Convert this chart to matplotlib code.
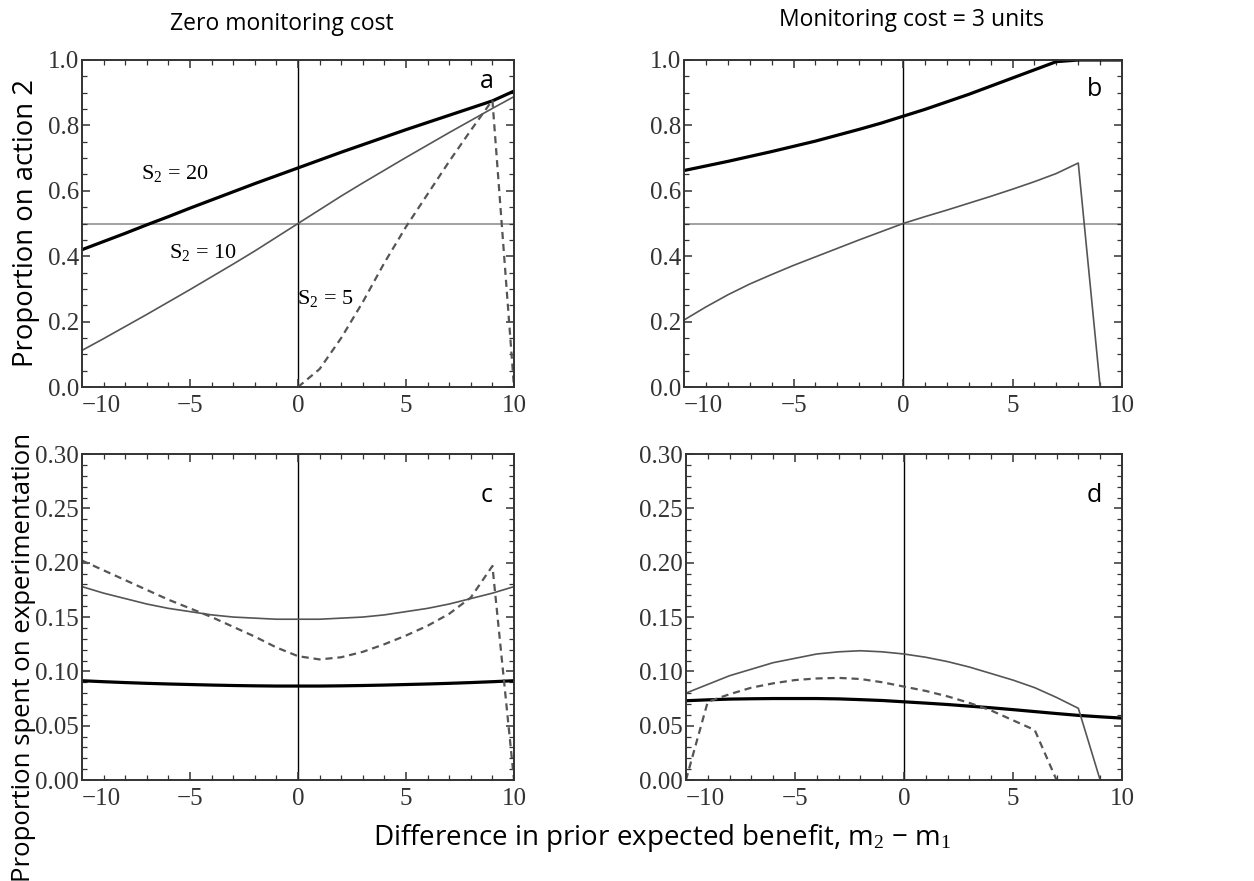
import numpy as np
import matplotlib
matplotlib.use("Agg")
import matplotlib.pyplot as plt
from matplotlib.ticker import MultipleLocator, FixedFormatter

plt.rcParams['mathtext.fontset'] = 'custom'
plt.rcParams['mathtext.rm'] = 'Liberation Serif'
plt.rcParams['mathtext.it'] = 'Liberation Serif'

# difference in prior expected benefit, m2 - m1 (integer grid)
x = np.arange(-10, 11)
x_pos = np.arange(0, 11)
x_ticks = [-10, -5, 0, 5, 10]
x_labels = ['\u221210', '\u22125', '0', '5', '10']
top_ticks = [0.0, 0.2, 0.4, 0.6, 0.8, 1.0]
bottom_ticks = [0.0, 0.05, 0.10, 0.15, 0.20, 0.25, 0.30]

# zero monitoring cost: proportion on action 2
a_s20 = [0.420, 0.445, 0.470, 0.496, 0.521, 0.547, 0.572, 0.597, 0.622, 0.646, 0.670,
         0.694, 0.718, 0.741, 0.764, 0.787, 0.809, 0.831, 0.853, 0.875, 0.905]
a_s10 = [0.112, 0.148, 0.185, 0.222, 0.260, 0.298, 0.337, 0.376, 0.416, 0.458, 0.500,
         0.542, 0.584, 0.624, 0.663, 0.702, 0.740, 0.778, 0.815, 0.852, 0.888]
a_s5 = [0.0, 0.055, 0.150, 0.260, 0.380, 0.490, 0.590, 0.690, 0.785, 0.877, 0.0]

# monitoring cost = 3 units: proportion on action 2
b_s20 = [0.662, 0.676, 0.690, 0.705, 0.720, 0.736, 0.752, 0.770, 0.788, 0.807, 0.828,
         0.849, 0.872, 0.895, 0.920, 0.945, 0.970, 0.995, 1.0, 1.0, 1.0]
b_s10 = [0.205, 0.245, 0.282, 0.315, 0.344, 0.372, 0.398, 0.424, 0.450, 0.475, 0.500,
         0.521, 0.541, 0.562, 0.583, 0.605, 0.628, 0.653, 0.685, 0.0]
x_b10 = np.arange(-10, 10)

# zero monitoring cost: proportion spent on experimentation
c_s20 = [0.0914, 0.0905, 0.0897, 0.0890, 0.0884, 0.0879, 0.0874, 0.0870, 0.0867, 0.0865, 0.0865,
         0.0865, 0.0867, 0.0870, 0.0874, 0.0879, 0.0884, 0.0890, 0.0897, 0.0905, 0.0914]
c_s10 = [0.178, 0.172, 0.167, 0.162, 0.158, 0.155, 0.152, 0.150, 0.149, 0.148, 0.148,
         0.148, 0.149, 0.150, 0.152, 0.155, 0.158, 0.162, 0.167, 0.172, 0.178]
c_s5 = [0.202, 0.193, 0.184, 0.175, 0.166, 0.158, 0.150, 0.141, 0.132, 0.122, 0.114,
        0.111, 0.113, 0.118, 0.125, 0.133, 0.142, 0.153, 0.168, 0.197, 0.0]

# monitoring cost = 3 units: proportion spent on experimentation
d_s20 = [0.0730, 0.0738, 0.0745, 0.0748, 0.0750, 0.0750, 0.0750, 0.0747, 0.0740, 0.0732, 0.0720,
         0.0708, 0.0695, 0.0680, 0.0665, 0.0648, 0.0630, 0.0612, 0.0595, 0.0582, 0.0570]
d_s10 = [0.080, 0.088, 0.096, 0.102, 0.108, 0.112, 0.116, 0.118, 0.119, 0.118, 0.116,
         0.113, 0.109, 0.104, 0.098, 0.092, 0.085, 0.076, 0.066, 0.0]
x_d10 = np.arange(-10, 10)
d_s5 = [0.0, 0.072, 0.079, 0.085, 0.089, 0.092, 0.0935, 0.094, 0.093, 0.090, 0.086,
        0.082, 0.077, 0.071, 0.064, 0.055, 0.046, 0.0]
x_d5 = np.arange(-10, 8)

thick = dict(color='black', lw=2.3, solid_capstyle='butt')
thin = dict(color='#555555', lw=1.2)
dash = dict(color='#555555', lw=1.6, dashes=(3.2, 2.2))

serif = 'Liberation Serif'
sans = 'Open Sans'

fig = plt.figure(figsize=(12.54, 8.81), dpi=100)
ax_a = fig.add_axes([0.0654, 0.5607, 0.3445, 0.3712])
ax_b = fig.add_axes([0.5455, 0.5607, 0.3493, 0.3712])
ax_c = fig.add_axes([0.0654, 0.1146, 0.3445, 0.3700])
ax_d = fig.add_axes([0.5470, 0.1146, 0.3477, 0.3700])


def frame(ax, top):
    ax.set_xlim(-10, 10)
    ax.set_xticks(x_ticks, x_labels)
    ax.xaxis.set_minor_locator(MultipleLocator(1))
    if top:
        ax.set_ylim(0, 1)
        ax.set_yticks(top_ticks, [f"{v:.1f}" for v in top_ticks])
        ax.yaxis.set_minor_locator(MultipleLocator(0.05))
        ax.axhline(0.5, color='#9a9a9a', lw=1.3, zorder=1)
    else:
        ax.set_ylim(0, 0.3)
        ax.set_yticks(bottom_ticks, [f"{v:.2f}" for v in bottom_ticks])
        ax.yaxis.set_minor_locator(MultipleLocator(0.01))
    ax.axvline(0, color='black', lw=1.0, zorder=1)
    ax.tick_params(which='both', direction='in', top=True, right=True,
                   colors='#333333', labelcolor='#333333')
    ax.tick_params(which='major', length=6, width=1.1, labelsize=18)
    ax.tick_params(axis='x', which='major', pad=6)
    ax.tick_params(axis='y', which='major', pad=2)
    ax.tick_params(which='minor', length=3.5, width=0.9)
    for lab in ax.get_xticklabels() + ax.get_yticklabels():
        lab.set_family(serif)
    # leftmost x label sits just inside the frame
    ax.xaxis.get_major_ticks()[0].label1.set_horizontalalignment('left')
    for sp in ax.spines.values():
        sp.set_color('#333333')
        sp.set_linewidth(1.4)


for ax, top in [(ax_a, True), (ax_b, True), (ax_c, False), (ax_d, False)]:
    frame(ax, top)

ax_a.plot(x, a_s20, **thick)
ax_a.plot(x, a_s10, **thin)
ax_a.plot(x_pos, a_s5, **dash)
ax_a.text(-5.7, 0.653, r'S$_2$ = 20', family=serif, fontsize=16, ha='center', va='center')
ax_a.text(-4.4, 0.41, r'S$_2$ = 10', family=serif, fontsize=16, ha='center', va='center')
ax_a.text(1.25, 0.272, r'S$_2$ = 5', family=serif, fontsize=16, ha='center', va='center')

ax_b.plot(x, b_s20, **thick)
ax_b.plot(x_b10, b_s10, **thin)

ax_c.plot(x, c_s20, **thick)
ax_c.plot(x, c_s10, **thin)
ax_c.plot(x, c_s5, **dash)

ax_d.plot(x, d_s20, **thick)
ax_d.plot(x_d10, d_s10, **thin)
ax_d.plot(x_d5, d_s5, **dash)

for ax, letter, yy in [(ax_a, 'a', 0.935), (ax_b, 'b', 0.91), (ax_c, 'c', 0.262), (ax_d, 'd', 0.262)]:
    ax.text(8.75, yy, letter, family=sans, fontsize=18, ha='center', va='center')

fig.text(0.225, 0.973, 'Zero monitoring cost', family=sans, fontsize=16.5, ha='center', va='center')
fig.text(0.727, 0.977, 'Monitoring cost = 3 units', family=sans, fontsize=16.5, ha='center', va='center')
fig.text(0.021, 0.747, 'Proportion on action 2', family=sans, fontsize=19.8,
         rotation=90, ha='center', va='center')
fig.text(0.019, 0.254, 'Proportion spent on experimentation', family=sans, fontsize=18.5,
         rotation=90, ha='center', va='center')
fig.text(0.528, 0.049, 'Difference in prior expected benefit, m$_2$ \u2212 m$_1$',
         family=sans, fontsize=20, ha='center', va='center')

fig.savefig('out.png', dpi=100)
